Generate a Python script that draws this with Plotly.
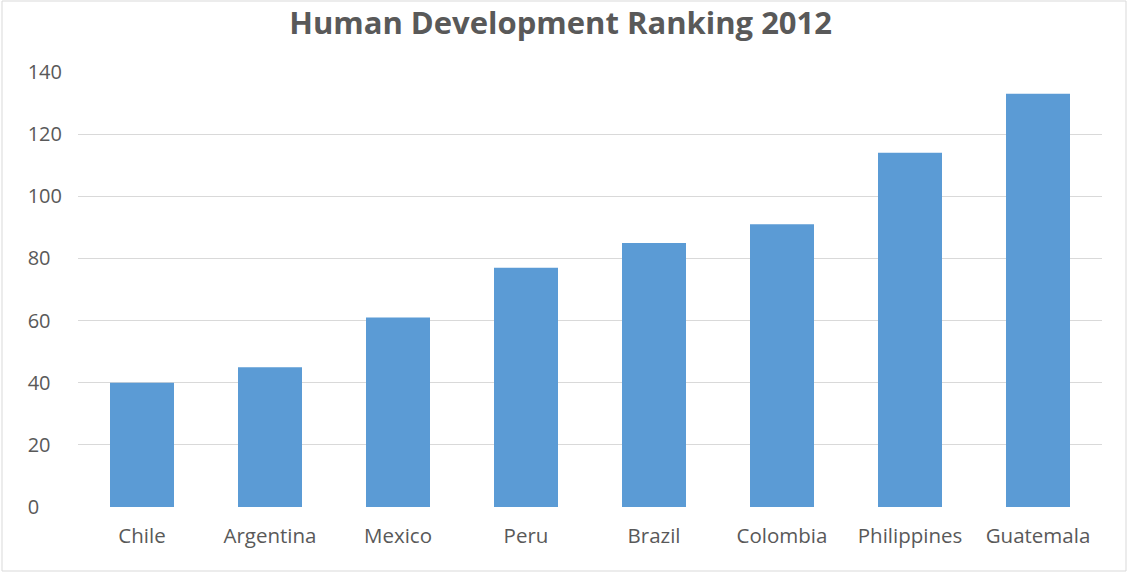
import plotly.graph_objects as go

countries = ["Chile", "Argentina", "Mexico", "Peru", "Brazil", "Colombia", "Philippines", "Guatemala"]
ranking = [40, 45, 61, 77, 85, 91, 114, 133]
y_ticks = [0, 20, 40, 60, 80, 100, 120, 140]
# left-aligned labels: pad with figure spaces to the width of three digits
y_tick_text = [str(v) + "\u2007" * (3 - len(str(v))) for v in y_ticks]

fig = go.Figure(go.Bar(x=countries, y=ranking, marker=dict(color="#5B9BD5", line=dict(width=0)),
                       hoverinfo="skip"))

L, R, T, B = 78, 26, 72, 66
W, H = 1128, 573
pw, ph = W - L - R, H - T - B

fig.update_layout(
    width=W, height=H,
    margin=dict(l=L, r=R, t=T, b=B),
    paper_bgcolor="white", plot_bgcolor="white",
    bargap=0.5,
    showlegend=False,
    title=dict(text="<b>Human Development Ranking 2012</b>", x=0.497, xanchor="center",
               y=1 - 23 / H, yanchor="middle",
               font=dict(family="Open Sans", size=31, color="#595959")),
    font=dict(family="Open Sans", size=20, color="#595959"),
    xaxis=dict(showgrid=False, showline=False, ticks="", automargin=False,
               ticklabelstandoff=14, tickfont=dict(size=20.5, color="#595959")),
    yaxis=dict(range=[0, 140], tickvals=y_ticks, ticktext=y_tick_text,
               showgrid=True, gridcolor="#D9D9D9", gridwidth=1,
               zeroline=False, showline=False, ticks="", automargin=False,
               ticklabelstandoff=15, tickfont=dict(size=20, color="#595959")),
    shapes=[dict(type="rect", xref="paper", yref="paper",
                 x0=(2 - L) / pw, x1=(1126 - L) / pw,
                 y0=-(571 - (H - B)) / ph, y1=((H - B) - 1) / ph,
                 line=dict(color="#D9D9D9", width=1), fillcolor="rgba(0,0,0,0)", layer="below")],
)

fig.write_html("out.html", config={"displayModeBar": False},
               post_script="document.body.style.margin='0';")
